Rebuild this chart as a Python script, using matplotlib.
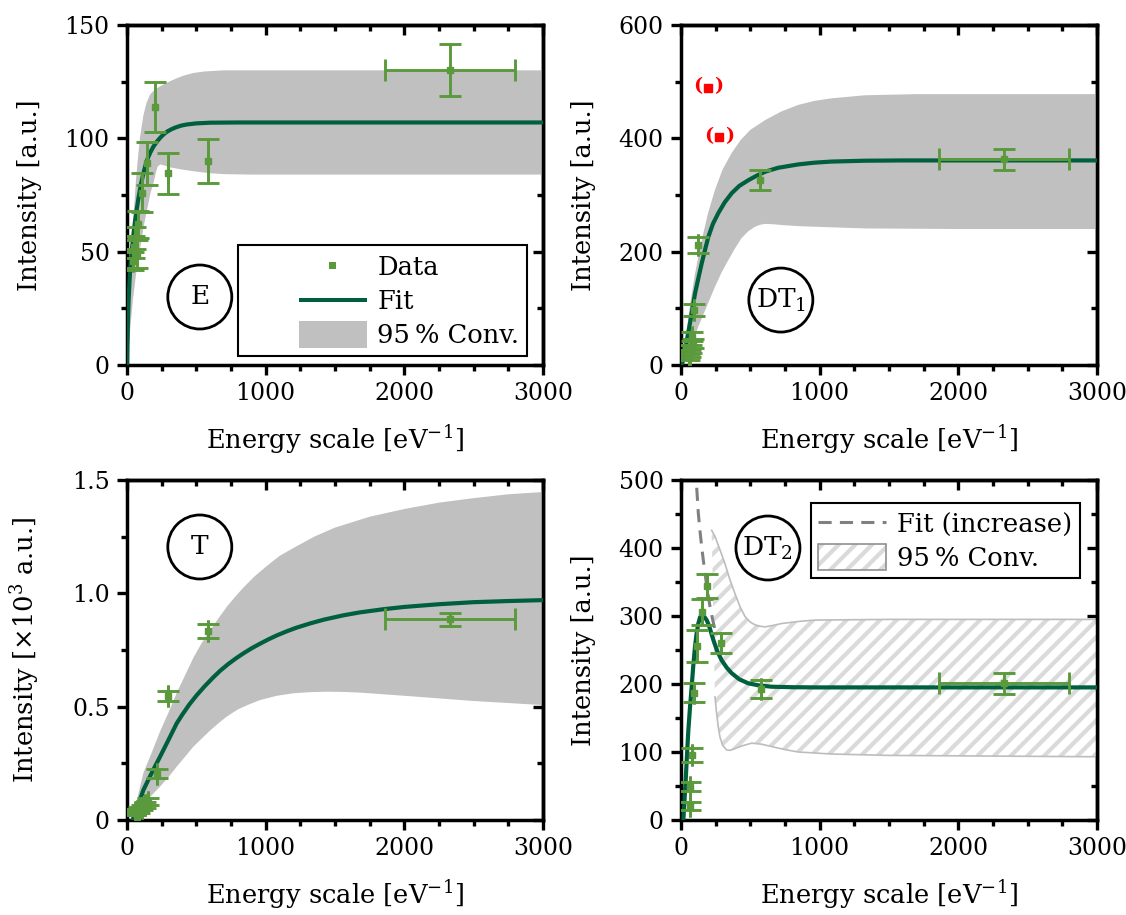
import numpy as np
import matplotlib
matplotlib.use("Agg")
import matplotlib.pyplot as plt
from matplotlib.lines import Line2D
from matplotlib.patches import Patch, Ellipse, Rectangle
from matplotlib.legend_handler import HandlerTuple, HandlerPatch
from matplotlib.ticker import MultipleLocator

plt.rcParams["font.family"] = ["DejaVu Serif"]
plt.rcParams["mathtext.fontset"] = "dejavuserif"
plt.rcParams["font.size"] = 18.5
plt.rcParams["hatch.linewidth"] = 3.0
plt.rcParams["hatch.color"] = "#dadada"

DATA_GREEN = "#5b9a3c"
FIT_GREEN = "#005f3d"
BAND_GRAY = "#c0c0c0"
TICK_SIZE = 17

# ---- panel E
E_X = [45, 52, 60, 70, 82, 106, 142, 202, 298, 586, 2330]
E_Y = [46, 52, 56, 49, 62, 76, 89, 114, 84.5, 90, 130]
E_YERR = [4, 5, 5, 6, 6, 8.5, 9.5, 11, 9, 9.5, 11.5]
E_XERR = [0, 0, 0, 0, 0, 0, 0, 0, 0, 0, 468]
E_FIT_X = [0, 3, 7, 12, 18, 25, 35, 45, 58, 72, 85, 100, 118, 135, 150, 170, 190, 215,
           240, 265, 290, 320, 350, 390, 430, 500, 600, 800, 3000]
E_FIT_Y = [0, 10, 20, 29, 37, 44, 51, 57, 63.5, 69.5, 74.5, 79.5, 84.5, 88.5, 91.3, 94,
           96.3, 98.5, 100.3, 101.8, 103, 104, 104.8, 105.6, 106.1, 106.6, 106.9, 107, 107]
E_UP_X = [0, 8, 15, 25, 36, 50, 65, 80, 95, 118, 140, 166, 200, 240, 286, 340, 400, 476,
          560, 700, 3000]
E_UP_Y = [0, 18, 29, 43, 55, 68, 82, 92, 101, 110, 115.5, 119.3, 121.5, 123, 124.5, 126,
          127.5, 128.8, 129.5, 130, 130]
E_LO_X = [0, 10, 25, 43, 65, 94, 120, 150, 170, 190, 205, 220, 240, 270, 310, 400, 500,
          600, 700, 900, 3000]
E_LO_Y = [0, 5, 17, 29, 40, 51, 61, 70, 76, 80, 84, 87.5, 88.5, 88, 87.2, 86.2, 85.3,
          84.6, 84.2, 84, 84]

# ---- panel DT1
DT1_X = [60, 68, 75, 88, 78, 95, 125, 570, 2330]
DT1_Y = [14, 20, 28, 38, 50, 97, 212, 326, 363]
DT1_YERR = [6, 6, 7, 8, 8, 10, 14, 18, 18]
DT1_XERR = [0, 0, 0, 0, 0, 0, 0, 0, 468]
DT1_FIT_X = [0, 10, 17, 28, 40, 52, 65, 80, 101, 125, 149, 173, 197, 230, 269, 315, 365,
             420, 485, 545, 606, 700, 846, 960, 1086, 1327, 1600, 3000]
DT1_FIT_Y = [0, 4, 9, 22, 40, 57, 74, 96, 126, 153, 179, 203, 226, 249, 268, 287, 303,
             316, 326, 334, 341, 348, 354, 357, 359, 360.5, 361, 361]
DT1_UP_X = [0, 30, 65, 100, 149, 195, 245, 300, 365, 430, 500, 606, 720, 846, 960, 1086,
            1327, 1700, 3000]
DT1_UP_Y = [0, 40, 106, 160, 220, 268, 309, 345, 374, 397, 415, 432, 447, 459, 466,
            470.6, 476, 478, 478]
DT1_LO_X = [0, 53, 90, 125, 180, 245, 290, 341, 390, 437, 485, 534, 570, 606, 660, 726,
            850, 966, 1327, 2000, 3000]
DT1_LO_Y = [0, 21, 44, 68, 100, 138, 162, 185, 206, 224, 236, 244, 247.5, 249, 248.5,
            247, 245, 244, 241, 240, 240]
DT1_OUT_X = [195, 274]
DT1_OUT_Y = [489, 402]

# ---- panel T (x10^3)
T_X = [60, 75, 90, 110, 130, 154, 214, 298, 586, 2330]
T_Y = [0.03, 0.04, 0.045, 0.055, 0.065, 0.081, 0.205, 0.547, 0.833, 0.885]
T_YERR = [0.01, 0.01, 0.012, 0.012, 0.014, 0.015, 0.018, 0.023, 0.03, 0.03]
T_XERR = [0, 0, 0, 0, 0, 0, 0, 0, 0, 468]
T_FIT_X = [40, 80, 118, 160, 200, 238, 280, 320, 358, 400, 450, 502, 560, 620, 671, 730,
           790, 839, 900, 960, 1020, 1079, 1150, 1220, 1319, 1420, 1560, 1680, 1850, 2000,
           2250, 2500, 2750, 3000]
T_FIT_Y = [0, 0.065, 0.132, 0.185, 0.234, 0.279, 0.33, 0.379, 0.426, 0.466, 0.51, 0.55,
           0.59, 0.628, 0.658, 0.688, 0.715, 0.735, 0.758, 0.778, 0.797, 0.814, 0.832,
           0.848, 0.867, 0.884, 0.903, 0.916, 0.93, 0.94, 0.952, 0.961, 0.966, 0.97]
T_UP_X = [40, 80, 118, 180, 238, 300, 358, 420, 478, 540, 598, 660, 719, 780, 839, 920,
          1007, 1100, 1200, 1350, 1500, 1750, 2000, 2250, 2500, 2750, 3000]
T_UP_Y = [0, 0.11, 0.207, 0.30, 0.39, 0.475, 0.56, 0.64, 0.715, 0.782, 0.835, 0.89,
          0.94, 0.985, 1.025, 1.075, 1.12, 1.165, 1.20, 1.25, 1.29, 1.338, 1.372, 1.40,
          1.42, 1.437, 1.447]
T_LO_X = [40, 118, 180, 238, 300, 358, 420, 478, 540, 600, 660, 719, 800, 880, 959, 1080,
          1199, 1320, 1440, 1560, 1680, 2000, 2500, 3000]
T_LO_Y = [0, 0.07, 0.11, 0.147, 0.19, 0.235, 0.28, 0.323, 0.36, 0.395, 0.427, 0.456,
          0.488, 0.51, 0.529, 0.548, 0.559, 0.564, 0.566, 0.565, 0.562, 0.548, 0.525, 0.507]

# ---- panel DT2
DT2_X = [68, 68, 81, 91, 114, 150, 185, 289, 575, 2330]
DT2_Y = [21, 49, 96, 187, 256, 306, 344, 260, 193, 201]
DT2_YERR = [6, 7, 10, 14, 24, 19, 18, 15, 13, 15]
DT2_XERR = [0, 0, 0, 0, 0, 0, 0, 0, 0, 468]
DT2_FIT_X = [17, 25, 34, 43, 53, 65, 77, 89, 101, 113, 125, 137, 149, 162, 175, 185, 200,
             215, 233, 260, 293, 330, 365, 420, 485, 560, 654, 800, 966, 3000]
DT2_FIT_Y = [0, 28, 59, 95, 132, 166, 196, 228, 255, 275, 289, 298, 301, 300, 297, 294,
             287, 277, 265, 249, 235, 224, 216, 207, 201, 198, 196, 195.3, 195, 195]
DT2_INC_X = [105, 113, 119, 125, 137, 149, 161, 173, 190, 209, 228, 250]
DT2_INC_Y = [520, 490, 470, 451, 425, 402, 382, 363, 338, 314, 295, 275]
DT2_UP_X = [221, 245, 280, 317, 350, 389, 425, 462, 500, 534, 570, 606, 660, 726, 850,
            966, 1500, 3000]
DT2_UP_Y = [426, 417, 398, 377, 355, 333, 314, 299, 291, 287, 285, 284, 286, 289, 292,
            294, 295, 295]
DT2_LO_X = [245, 257, 268, 281, 300, 329, 355, 389, 440, 510, 580, 654, 750, 846, 1086,
            1500, 3000]
DT2_LO_Y = [181, 157, 138, 122, 110, 103, 102.5, 105, 109, 113, 111.5, 108, 103.5, 100,
            97, 95, 93]

INC_DASH = (0, (4.3, 2.7))


def style_axes(ax, ymax, ymajor, yminor, ylabel, yfmt=None):
    ax.set_xlim(0, 3000)
    ax.set_ylim(0, ymax)
    ax.xaxis.set_major_locator(MultipleLocator(1000))
    ax.xaxis.set_minor_locator(MultipleLocator(250))
    ax.yaxis.set_major_locator(MultipleLocator(ymajor))
    ax.yaxis.set_minor_locator(MultipleLocator(yminor))
    if yfmt is not None:
        ax.yaxis.set_major_formatter(yfmt)
    ax.tick_params(which="both", direction="out", width=2.4, top=False, right=False, pad=5,
                   labelsize=TICK_SIZE)
    ax.tick_params(which="major", length=7.5)
    ax.tick_params(which="minor", length=4)
    for sp in ax.spines.values():
        sp.set_linewidth(2.5)
    ax.set_xlabel("Energy scale [eV$^{-1}$]")
    ax.set_ylabel(ylabel)
    ax.xaxis.set_label_coords(0.5, -0.172)
    ax.yaxis.set_label_coords(-0.205, 0.5)

    sx = ax.secondary_xaxis("top")
    sx.xaxis.set_major_locator(MultipleLocator(1000))
    sx.xaxis.set_minor_locator(MultipleLocator(250))
    sx.tick_params(which="both", direction="in", width=2.4, labeltop=False)
    sx.tick_params(which="major", length=7.5)
    sx.tick_params(which="minor", length=4.5)
    sy = ax.secondary_yaxis("right")
    sy.yaxis.set_major_locator(MultipleLocator(ymajor))
    sy.yaxis.set_minor_locator(MultipleLocator(yminor))
    sy.tick_params(which="both", direction="in", width=2.4, labelright=False)
    sy.tick_params(which="major", length=7.5)
    sy.tick_params(which="minor", length=4.5)
    for s in (sx, sy):
        for sp in s.spines.values():
            sp.set_linewidth(2.5)


def circle_label(ax, cx, cy, text):
    ax.add_patch(Ellipse((cx, cy), 64 / 416, 64 / 340, transform=ax.transAxes,
                         facecolor="white", edgecolor="black", linewidth=2.0, zorder=6))
    ax.text(cx, cy, text, transform=ax.transAxes, ha="center", va="center",
            fontsize=19, zorder=7)


def data(ax, x, y, yerr, xerr):
    ax.errorbar(x, y, yerr=yerr, xerr=xerr, fmt="s", color=DATA_GREEN, markersize=5,
                elinewidth=2.1, capsize=8, capthick=2.1, zorder=5)


# legend handles in panel E sit at the right end of a long handle box
VIS = 2.65


def right_rect(kind):
    def make(legend, orig_handle, xdescent, ydescent, width, height, fontsize):
        w = VIS * fontsize
        x0 = -xdescent + width - w
        if kind == "band":
            return Rectangle((x0, -ydescent), w, height)
        if kind == "line":
            return Rectangle((x0, -ydescent + height / 2 - 1.5), w, 3.0)
        s = 5.0
        return Rectangle((x0 + w / 2 - s / 2, -ydescent + height / 2 - s / 2), s, s)
    return HandlerPatch(patch_func=make)


fig = plt.figure(figsize=(11.26, 9.15), dpi=100)
W, H = 1126, 915
ax1 = fig.add_axes([127 / W, 1 - 365 / H, 416 / W, 340 / H])
ax2 = fig.add_axes([681 / W, 1 - 365 / H, 416 / W, 340 / H])
ax3 = fig.add_axes([127 / W, 1 - 820 / H, 416 / W, 340 / H])
ax4 = fig.add_axes([681 / W, 1 - 820 / H, 416 / W, 340 / H])

# E
ax1.fill(E_UP_X + E_LO_X[::-1], E_UP_Y + E_LO_Y[::-1], color=BAND_GRAY, linewidth=0, zorder=1)
ax1.plot(E_FIT_X, E_FIT_Y, color=FIT_GREEN, linewidth=3, zorder=3)
data(ax1, E_X, E_Y, E_YERR, E_XERR)
style_axes(ax1, 150, 50, 25, "Intensity [a.u.]")
circle_label(ax1, 0.175, 0.2, "E")
h_data = Patch(facecolor=DATA_GREEN, edgecolor="none")
h_fit = Patch(facecolor=FIT_GREEN, edgecolor="none")
h_band = Patch(facecolor=BAND_GRAY, edgecolor="none")
leg = ax1.legend([h_data, h_fit, h_band], ["Data", "Fit", "95\u2009% Conv."],
                 loc="lower right", bbox_to_anchor=(0.962, 0.026), borderaxespad=0,
                 fancybox=False, edgecolor="black", framealpha=1, handlelength=4.7,
                 handleheight=1.25, labelspacing=0.28, borderpad=0.3, handletextpad=0.42,
                 handler_map={h_data: right_rect("marker"), h_fit: right_rect("line"),
                              h_band: right_rect("band")})
leg.get_frame().set_linewidth(1.5)
leg.set_zorder(8)

# DT1
ax2.fill(DT1_UP_X + DT1_LO_X[::-1], DT1_UP_Y + DT1_LO_Y[::-1], color=BAND_GRAY,
         linewidth=0, zorder=1)
ax2.plot(DT1_FIT_X, DT1_FIT_Y, color=FIT_GREEN, linewidth=3, zorder=3)
data(ax2, DT1_X, DT1_Y, DT1_YERR, DT1_XERR)
ax2.plot(DT1_OUT_X, DT1_OUT_Y, "s", color="red", markersize=5.5, zorder=5)
for xo, yo in zip(DT1_OUT_X, DT1_OUT_Y):
    for ch, dx in (("(", -7.5), (")", 7.5)):
        ax2.annotate(ch, (xo, yo), xytext=(dx, 1), textcoords="offset points", ha="center",
                     va="center", color="red", fontsize=14, fontweight="bold")
style_axes(ax2, 600, 200, 100, "Intensity [a.u.]")
circle_label(ax2, 0.240, 0.191, "DT$_1$")

# T
ax3.fill(T_UP_X + T_LO_X[::-1], T_UP_Y + T_LO_Y[::-1], color=BAND_GRAY, linewidth=0, zorder=1)
ax3.plot(T_FIT_X, T_FIT_Y, color=FIT_GREEN, linewidth=3, zorder=3)
data(ax3, T_X, T_Y, T_YERR, T_XERR)
style_axes(ax3, 1.5, 0.5, 0.25, "Intensity [$\\times10^3$ a.u.]",
           yfmt=lambda v, p: "0" if abs(v) < 1e-9 else f"{v:.1f}")
circle_label(ax3, 0.175, 0.803, "T")

# DT2
ax4.fill(DT2_UP_X + DT2_LO_X[::-1], DT2_UP_Y + DT2_LO_Y[::-1], facecolor="white",
         hatch="//", linewidth=0, zorder=1)
ax4.plot(DT2_UP_X, DT2_UP_Y, color="#bdbdbd", linewidth=1.2, zorder=2)
ax4.plot(DT2_LO_X, DT2_LO_Y, color="#bdbdbd", linewidth=1.2, zorder=2)
ax4.plot(DT2_INC_X, DT2_INC_Y, color="#808080", linewidth=2.2, linestyle=INC_DASH, zorder=2)
ax4.plot(DT2_FIT_X, DT2_FIT_Y, color=FIT_GREEN, linewidth=3, zorder=3)
data(ax4, DT2_X, DT2_Y, DT2_YERR, DT2_XERR)
style_axes(ax4, 500, 100, 50, "Intensity [a.u.]")
circle_label(ax4, 0.209, 0.80, "DT$_2$")
hatch_handle = (Patch(facecolor="white", hatch="//", linewidth=0),
                Patch(facecolor="none", edgecolor="#909090", linewidth=1.2))
handles4 = [Line2D([], [], color="#808080", linewidth=2.2, linestyle=INC_DASH), hatch_handle]
leg4 = ax4.legend(handles4, ["Fit (increase)", "95\u2009% Conv."], loc="upper right",
                  bbox_to_anchor=(0.959, 0.932), borderaxespad=0, fancybox=False,
                  edgecolor="black", framealpha=1, handlelength=2.65, handleheight=1.2,
                  labelspacing=0.24, borderpad=0.3, handletextpad=0.42,
                  handler_map={tuple: HandlerTuple(ndivide=1, pad=0)})
leg4.get_frame().set_linewidth(1.5)
leg4.set_zorder(8)

fig.savefig("out.png", dpi=100)
